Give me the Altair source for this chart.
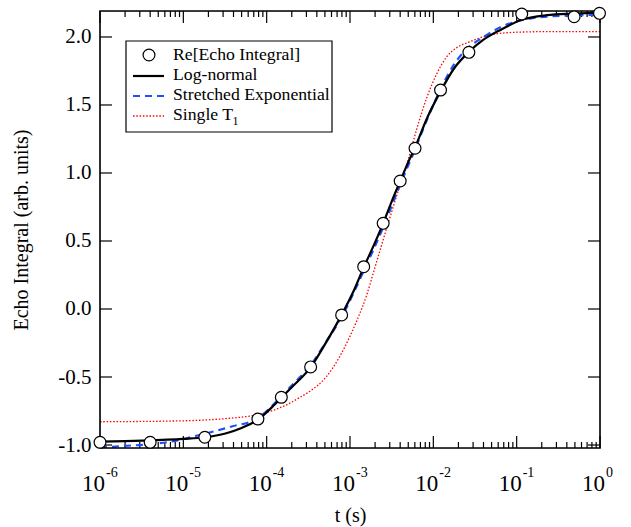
import altair as alt
import pandas as pd

pt_t = [1.0e-6, 4.0e-6, 1.81e-5, 7.85e-5, 1.50e-4, 3.37e-4, 7.94e-4, 1.46e-3,
        2.50e-3, 4.0e-3, 6.03e-3, 1.22e-2, 2.67e-2, 0.115, 0.489, 0.986]
pt_v = [-0.98, -0.98, -0.943, -0.809, -0.649, -0.426, -0.044, 0.311,
        0.630, 0.941, 1.182, 1.61, 1.887, 2.169, 2.149, 2.174]

ln_t = [1.0e-6, 3.2e-6, 1.0e-5, 1.8e-5, 3.2e-5, 5.0e-5, 7.9e-5, 1.26e-4, 2.0e-4,
        3.4e-4, 5.0e-4, 7.9e-4, 1.12e-3, 1.46e-3, 2.0e-3, 2.5e-3, 3.16e-3, 4.0e-3,
        5.0e-3, 6.0e-3, 8.5e-3, 1.22e-2, 1.78e-2, 2.67e-2, 4.0e-2, 6.3e-2, 0.12,
        0.23, 0.5, 1.0]
ln_v = [-0.975, -0.968, -0.955, -0.943, -0.915, -0.875, -0.812, -0.70, -0.575,
        -0.425, -0.26, -0.045, 0.14, 0.305, 0.49, 0.63, 0.79, 0.94,
        1.08, 1.185, 1.41, 1.60, 1.77, 1.89, 1.98, 2.05, 2.13,
        2.16, 2.172, 2.18]

se_t = [1.0e-6, 1.9e-6, 3.9e-6, 8.2e-6, 1.57e-5, 2.5e-5, 4.0e-5, 6.3e-5, 8.2e-5,
        1.26e-4, 2.0e-4, 3.4e-4, 5.0e-4, 7.9e-4, 1.46e-3, 2.5e-3, 4.0e-3, 6.0e-3,
        8.5e-3, 1.22e-2, 1.78e-2, 2.67e-2, 4.0e-2, 6.3e-2, 0.1, 0.16, 0.4, 1.0]
se_v = [-1.02, -1.007, -0.995, -0.968, -0.926, -0.895, -0.86, -0.83, -0.795,
        -0.69, -0.562, -0.41, -0.255, -0.06, 0.28, 0.60, 0.915, 1.17,
        1.40, 1.615, 1.80, 1.925, 2.00, 2.07, 2.115, 2.14, 2.157, 2.163]

t1_t = [1.0e-6, 1.0e-5, 1.57e-5, 3.2e-5, 5.0e-5, 8.2e-5, 1.26e-4, 1.73e-4, 2.5e-4,
        3.3e-4, 5.2e-4, 7.5e-4, 1.0e-3, 1.2e-3, 1.58e-3, 1.9e-3, 2.34e-3, 2.87e-3,
        3.98e-3, 5.0e-3, 6.3e-3, 8.3e-3, 1.1e-2, 1.45e-2, 1.9e-2, 2.75e-2, 4.8e-2,
        0.1, 0.3, 1.0]
t1_v = [-0.829, -0.822, -0.818, -0.806, -0.795, -0.775, -0.74, -0.705, -0.65,
        -0.605, -0.498, -0.351, -0.20, -0.09, 0.10, 0.262, 0.45, 0.63,
        0.91, 1.10, 1.32, 1.55, 1.73, 1.855, 1.92, 1.965, 2.015,
        2.035, 2.04, 2.04]

legend_labels = ["Re[Echo Integral]", "Log-normal", "Stretched Exponential", "Single T"]

x_major = [1e-6, 1e-5, 1e-4, 1e-3, 1e-2, 1e-1, 1.0]
x_exp = ["-6", "-5", "-4", "-3", "-2", "-1", "0"]
x_minor = [m * d for d in x_major[:-1] for m in range(2, 10)]
y_major = [-1.0, -0.5, 0.0, 0.5, 1.0, 1.5, 2.0]

# ---- layout ----
W, H = 500, 437
FONT = "Liberation Serif"
x_scale = alt.Scale(type="log", domain=[1e-6, 1.0], nice=False)
y_scale = alt.Scale(domain=[-1.022, 2.191], nice=False, zero=False)

x_axis = alt.Axis(labels=False, ticks=False, domain=False, grid=False,
                  title="t (s)", titleFont=FONT, titleFontSize=20,
                  titleFontWeight="normal", titleColor="black", titlePadding=57)
y_axis = alt.Axis(values=y_major, ticks=False, domain=False, grid=False,
                  labelExpr="datum.value < 0 ? '-' + format(-datum.value, '.1f') : format(datum.value, '.1f')",
                  labelFont=FONT, labelFontSize=21, labelColor="black", labelPadding=9,
                  title="Echo Integral (arb. units)", titleFont=FONT, titleFontSize=20,
                  titleFontWeight="normal", titleColor="black", titlePadding=26)

X = lambda f="t:Q": alt.X(f, scale=x_scale, axis=x_axis)
Y = lambda f="v:Q": alt.Y(f, scale=y_scale, axis=y_axis)


def curve(t, v, color, width, dash=None):
    df = pd.DataFrame({"t": t, "v": v})
    kw = dict(color=color, strokeWidth=width, interpolate="monotone", clip=True)
    if dash is not None:
        kw["strokeDash"] = dash
    return alt.Chart(df).mark_line(**kw).encode(x=X(), y=Y())


red = curve(t1_t, t1_v, "#ff0000", 1.3, [1.5, 1.8])
blue = curve(se_t, se_v, "#1f4fff", 2.2, [7, 5])
black = curve(ln_t, ln_v, "black", 2.2)

pts = alt.Chart(pd.DataFrame({"t": pt_t, "v": pt_v})).mark_point(
    shape="circle", size=140, filled=True, fill="white", stroke="black",
    strokeWidth=1.2, opacity=1).encode(x=X(), y=Y())

# ---- inward ticks ----
xmaj = pd.DataFrame({"t": x_major, "e": x_exp})
xmin = pd.DataFrame({"t": x_minor})
ymaj = pd.DataFrame({"v": y_major})


def xt(df, y1, y2):
    return alt.Chart(df).mark_rule(color="black", strokeWidth=1.2).encode(
        x=X(), y=alt.value(y1), y2=alt.value(y2))


def yt(x1, x2):
    return alt.Chart(ymaj).mark_rule(color="black", strokeWidth=1.2).encode(
        y=Y(), x=alt.value(x1), x2=alt.value(x2))


ticks = [xt(xmaj, H, H - 12), xt(xmaj, 0, 12), xt(xmin, H, H - 6), xt(xmin, 0, 6),
         yt(0, 12), yt(W, W - 12)]

# ---- plot frame ----
one = pd.DataFrame({"a": [0]})
frame = alt.Chart(one).mark_rect(fill=None, fillOpacity=0, stroke="black", strokeWidth=1.6).encode(
    x=alt.value(0), x2=alt.value(W), y=alt.value(0), y2=alt.value(H))

# ---- x tick labels 10^k ----
lab10 = alt.Chart(xmaj).mark_text(font=FONT, fontSize=23, align="right",
                                  baseline="alphabetic", dx=5, color="black").encode(
    x=X(), y=alt.value(H + 43), text=alt.value("10"))
labexp = alt.Chart(xmaj).mark_text(font=FONT, fontSize=14, align="left",
                                   baseline="alphabetic", dx=6, color="black").encode(
    x=X(), y=alt.value(H + 29), text="e:N")

# ---- legend ----
box = alt.Chart(one).mark_rect(fill="white", stroke="black", strokeWidth=1.2).encode(
    x=alt.value(26), x2=alt.value(232), y=alt.value(30), y2=alt.value(121))
leg_pt = alt.Chart(one).mark_point(shape="circle", size=140, filled=True, fill="white",
                                   stroke="black", strokeWidth=1.2, opacity=1).encode(
    x=alt.value(49), y=alt.value(44))


def leg_line(y, color, width, dash=None):
    kw = dict(color=color, strokeWidth=width)
    if dash is not None:
        kw["strokeDash"] = dash
    return alt.Chart(one).mark_rule(**kw).encode(
        x=alt.value(33), x2=alt.value(64), y=alt.value(y))


def leg_text(txt, y, size=17.7, x=73):
    return alt.Chart(one).mark_text(font=FONT, fontSize=size, align="left",
                                    baseline="alphabetic", color="black").encode(
        x=alt.value(x), y=alt.value(y), text=alt.value(txt))


legend = [box, leg_pt,
          leg_line(65, "black", 2.2),
          leg_line(85, "#1f4fff", 2.2, [7, 5]),
          leg_line(105, "#ff0000", 1.3, [1.5, 1.8]),
          leg_text(legend_labels[0], 49),
          leg_text(legend_labels[1], 69),
          leg_text(legend_labels[2], 89),
          leg_text(legend_labels[3], 109),
          leg_text("1", 114, size=12, x=132.5)]

chart = alt.layer(red, *ticks, blue, black, frame, pts, lab10, labexp, *legend).properties(
    width=W, height=H,
    autosize=alt.AutoSizeParams(type="none"),
    padding={"left": 100, "top": 11, "right": 31, "bottom": 79},
).configure_view(stroke=None).configure(background="white")

chart.save("out.html", embed_options={"renderer": "svg", "actions": False})
